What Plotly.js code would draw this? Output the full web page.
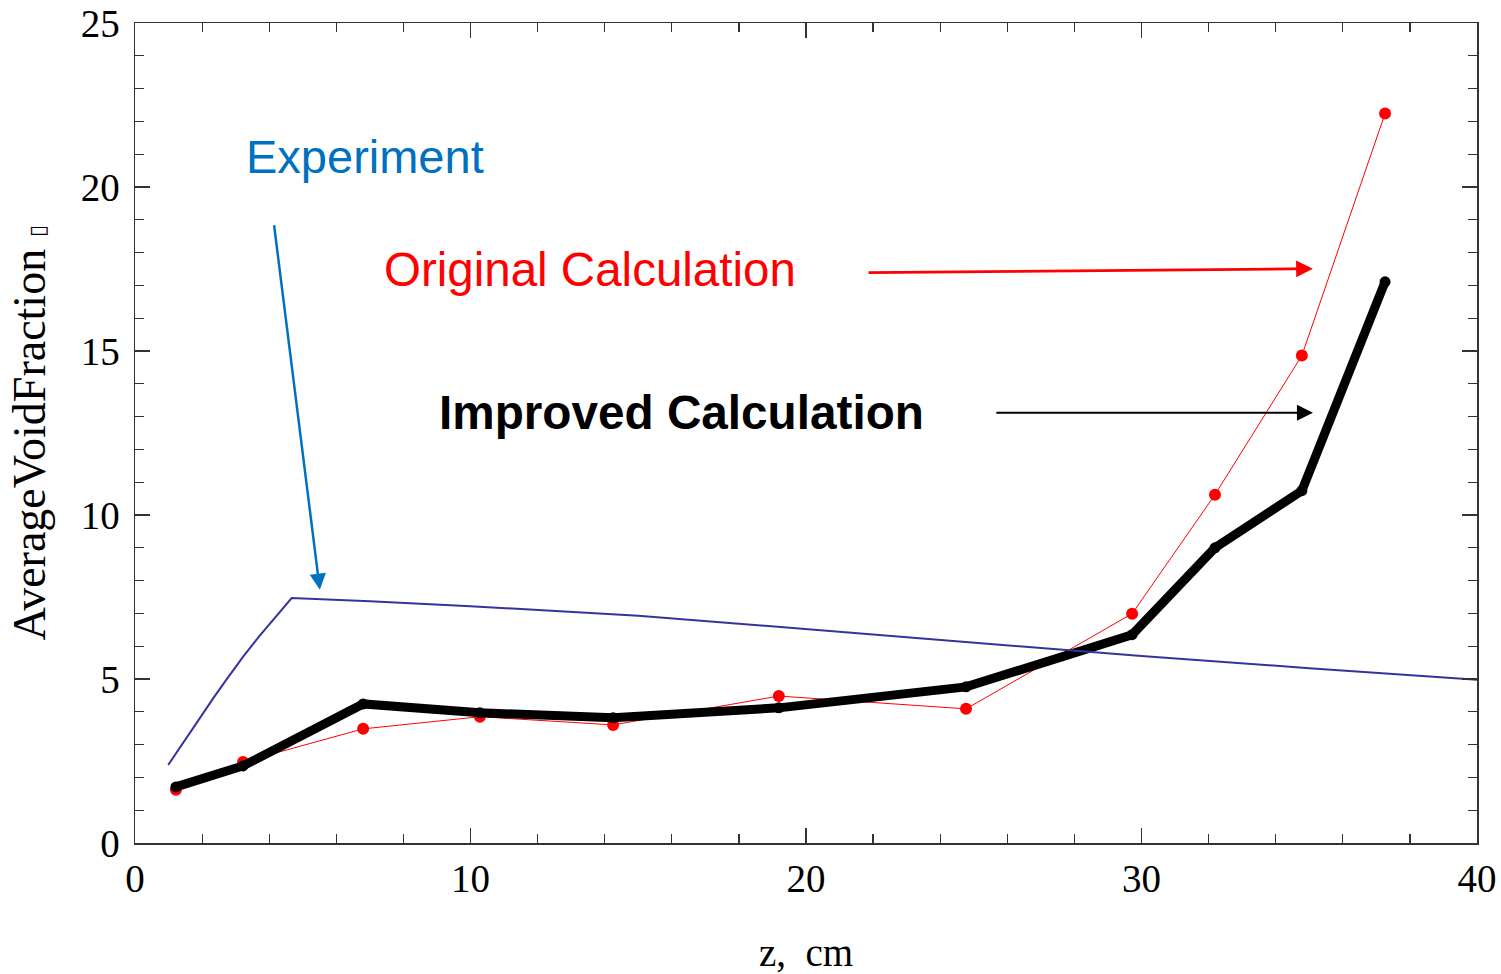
<!DOCTYPE html>
<html>
<head>
<meta charset="utf-8">
<script src="https://cdn.plot.ly/plotly-3.0.1.min.js"></script>
<style>html,body{margin:0;padding:0;background:#fff;}#chart{width:1501px;height:974px;}</style>
</head>
<body>
<div id="chart"></div>
<script>
// Experiment curve
const expZ = [0.99, 1.45, 1.94, 2.35, 2.73, 3.23, 3.70, 4.20, 4.67, 7.0, 10.0, 15.0, 20.0, 25.0, 30.0, 35.0, 40.0];
const expVoid = [2.38, 3.09, 3.83, 4.44, 4.99, 5.69, 6.30, 6.92, 7.47, 7.37, 7.22, 6.93, 6.52, 6.1, 5.7, 5.33, 4.98];

// Original calculation
const origZ = [1.22, 3.22, 6.80, 10.28, 14.25, 19.19, 24.77, 29.72, 32.19, 34.78, 37.26];
const origVoid = [1.62, 2.47, 3.48, 3.85, 3.60, 4.48, 4.09, 6.99, 10.62, 14.86, 22.24];

// Improved calculation
const impZ = [1.22, 3.22, 6.80, 10.28, 14.25, 19.19, 24.77, 29.72, 32.19, 34.78, 37.26];
const impVoid = [1.71, 2.35, 4.24, 3.97, 3.82, 4.12, 4.76, 6.35, 9.0, 10.74, 17.11];

const xTickVals = [0, 10, 20, 30, 40];
const yTickVals = [0, 5, 10, 15, 20, 25];

const serif = 'Liberation Serif, Times New Roman, serif';
const sans = 'Liberation Sans, Arial, sans-serif';

const traces = [
  {x: origZ, y: origVoid, type: 'scatter', mode: 'lines+markers',
   line: {color: '#FF0000', width: 1}, marker: {color: '#FF0000', size: 12}, hoverinfo: 'skip'},
  {x: impZ, y: impVoid, type: 'scatter', mode: 'lines+markers',
   line: {color: '#000000', width: 9}, marker: {color: '#000000', size: 11}, hoverinfo: 'skip'},
  {x: expZ, y: expVoid, type: 'scatter', mode: 'lines',
   line: {color: '#34349C', width: 2}, hoverinfo: 'skip'}
];

const axisCommon = {
  showgrid: false, zeroline: false, showline: true, linecolor: '#333333', linewidth: 1.5,
  mirror: 'allticks', ticks: 'inside', ticklen: 15, tickwidth: 1.5, tickcolor: '#333333',
  tickfont: {family: serif, size: 39, color: '#000'}
};

const layout = {
  width: 1501, height: 974,
  margin: {l: 135, r: 24, t: 23, b: 131},
  paper_bgcolor: '#fff', plot_bgcolor: '#fff',
  showlegend: false,
  xaxis: Object.assign({}, axisCommon, {
    range: [0, 40], tickvals: xTickVals, ticktext: xTickVals.map(String),
    minor: {dtick: 2, ticks: 'inside', ticklen: 9, tickwidth: 1.2, tickcolor: '#333333'},
    ticklabelstandoff: 1,
    title: {text: 'z,  cm', font: {family: serif, size: 39, color: '#000'}, standoff: 45}
  }),
  yaxis: Object.assign({}, axisCommon, {
    range: [0, 25], tickvals: yTickVals, ticktext: yTickVals.map(String),
    minor: {dtick: 1, ticks: 'inside', ticklen: 9, tickwidth: 1.2, tickcolor: '#333333'},
    ticklabelstandoff: 6,
    title: {text: 'AverageVoidFraction <span style="font-size:22px">▯</span>', font: {family: serif, size: 46, color: '#000'}, standoff: 20}
  }),
  annotations: [
    {x: 3.25, y: 20.93, xref: 'x', yref: 'y', text: 'Experiment', showarrow: false,
     xanchor: 'left', yanchor: 'middle', font: {family: sans, size: 47, color: '#0070C0'}},
    {x: 7.36, y: 17.48, xref: 'x', yref: 'y', text: 'Original Calculation', showarrow: false,
     xanchor: 'left', yanchor: 'middle', font: {family: sans, size: 47.5, color: '#FF0000'}},
    {x: 9.0, y: 13.12, xref: 'x', yref: 'y', text: '<b>Improved Calculation</b>', showarrow: false,
     xanchor: 'left', yanchor: 'middle', font: {family: sans, size: 47.7, color: '#000000'}},
    {x: 5.51, y: 7.72, ax: 4.14, ay: 18.88, xref: 'x', yref: 'y', axref: 'x', ayref: 'y', text: '',
     showarrow: true, arrowhead: 2, arrowsize: 1.3, arrowwidth: 2.5, arrowcolor: '#0070C0'},
    {x: 35.11, y: 17.51, ax: 21.82, ay: 17.39, xref: 'x', yref: 'y', axref: 'x', ayref: 'y', text: '',
     showarrow: true, arrowhead: 2, arrowsize: 1.2, arrowwidth: 2.8, arrowcolor: '#FF0000'},
    {x: 35.11, y: 13.12, ax: 25.63, ay: 13.12, xref: 'x', yref: 'y', axref: 'x', ayref: 'y', text: '',
     showarrow: true, arrowhead: 2, arrowsize: 1.6, arrowwidth: 2, arrowcolor: '#000000'}
  ]
};

Plotly.newPlot('chart', traces, layout, {displayModeBar: false, staticPlot: true});
</script>
</body>
</html>
